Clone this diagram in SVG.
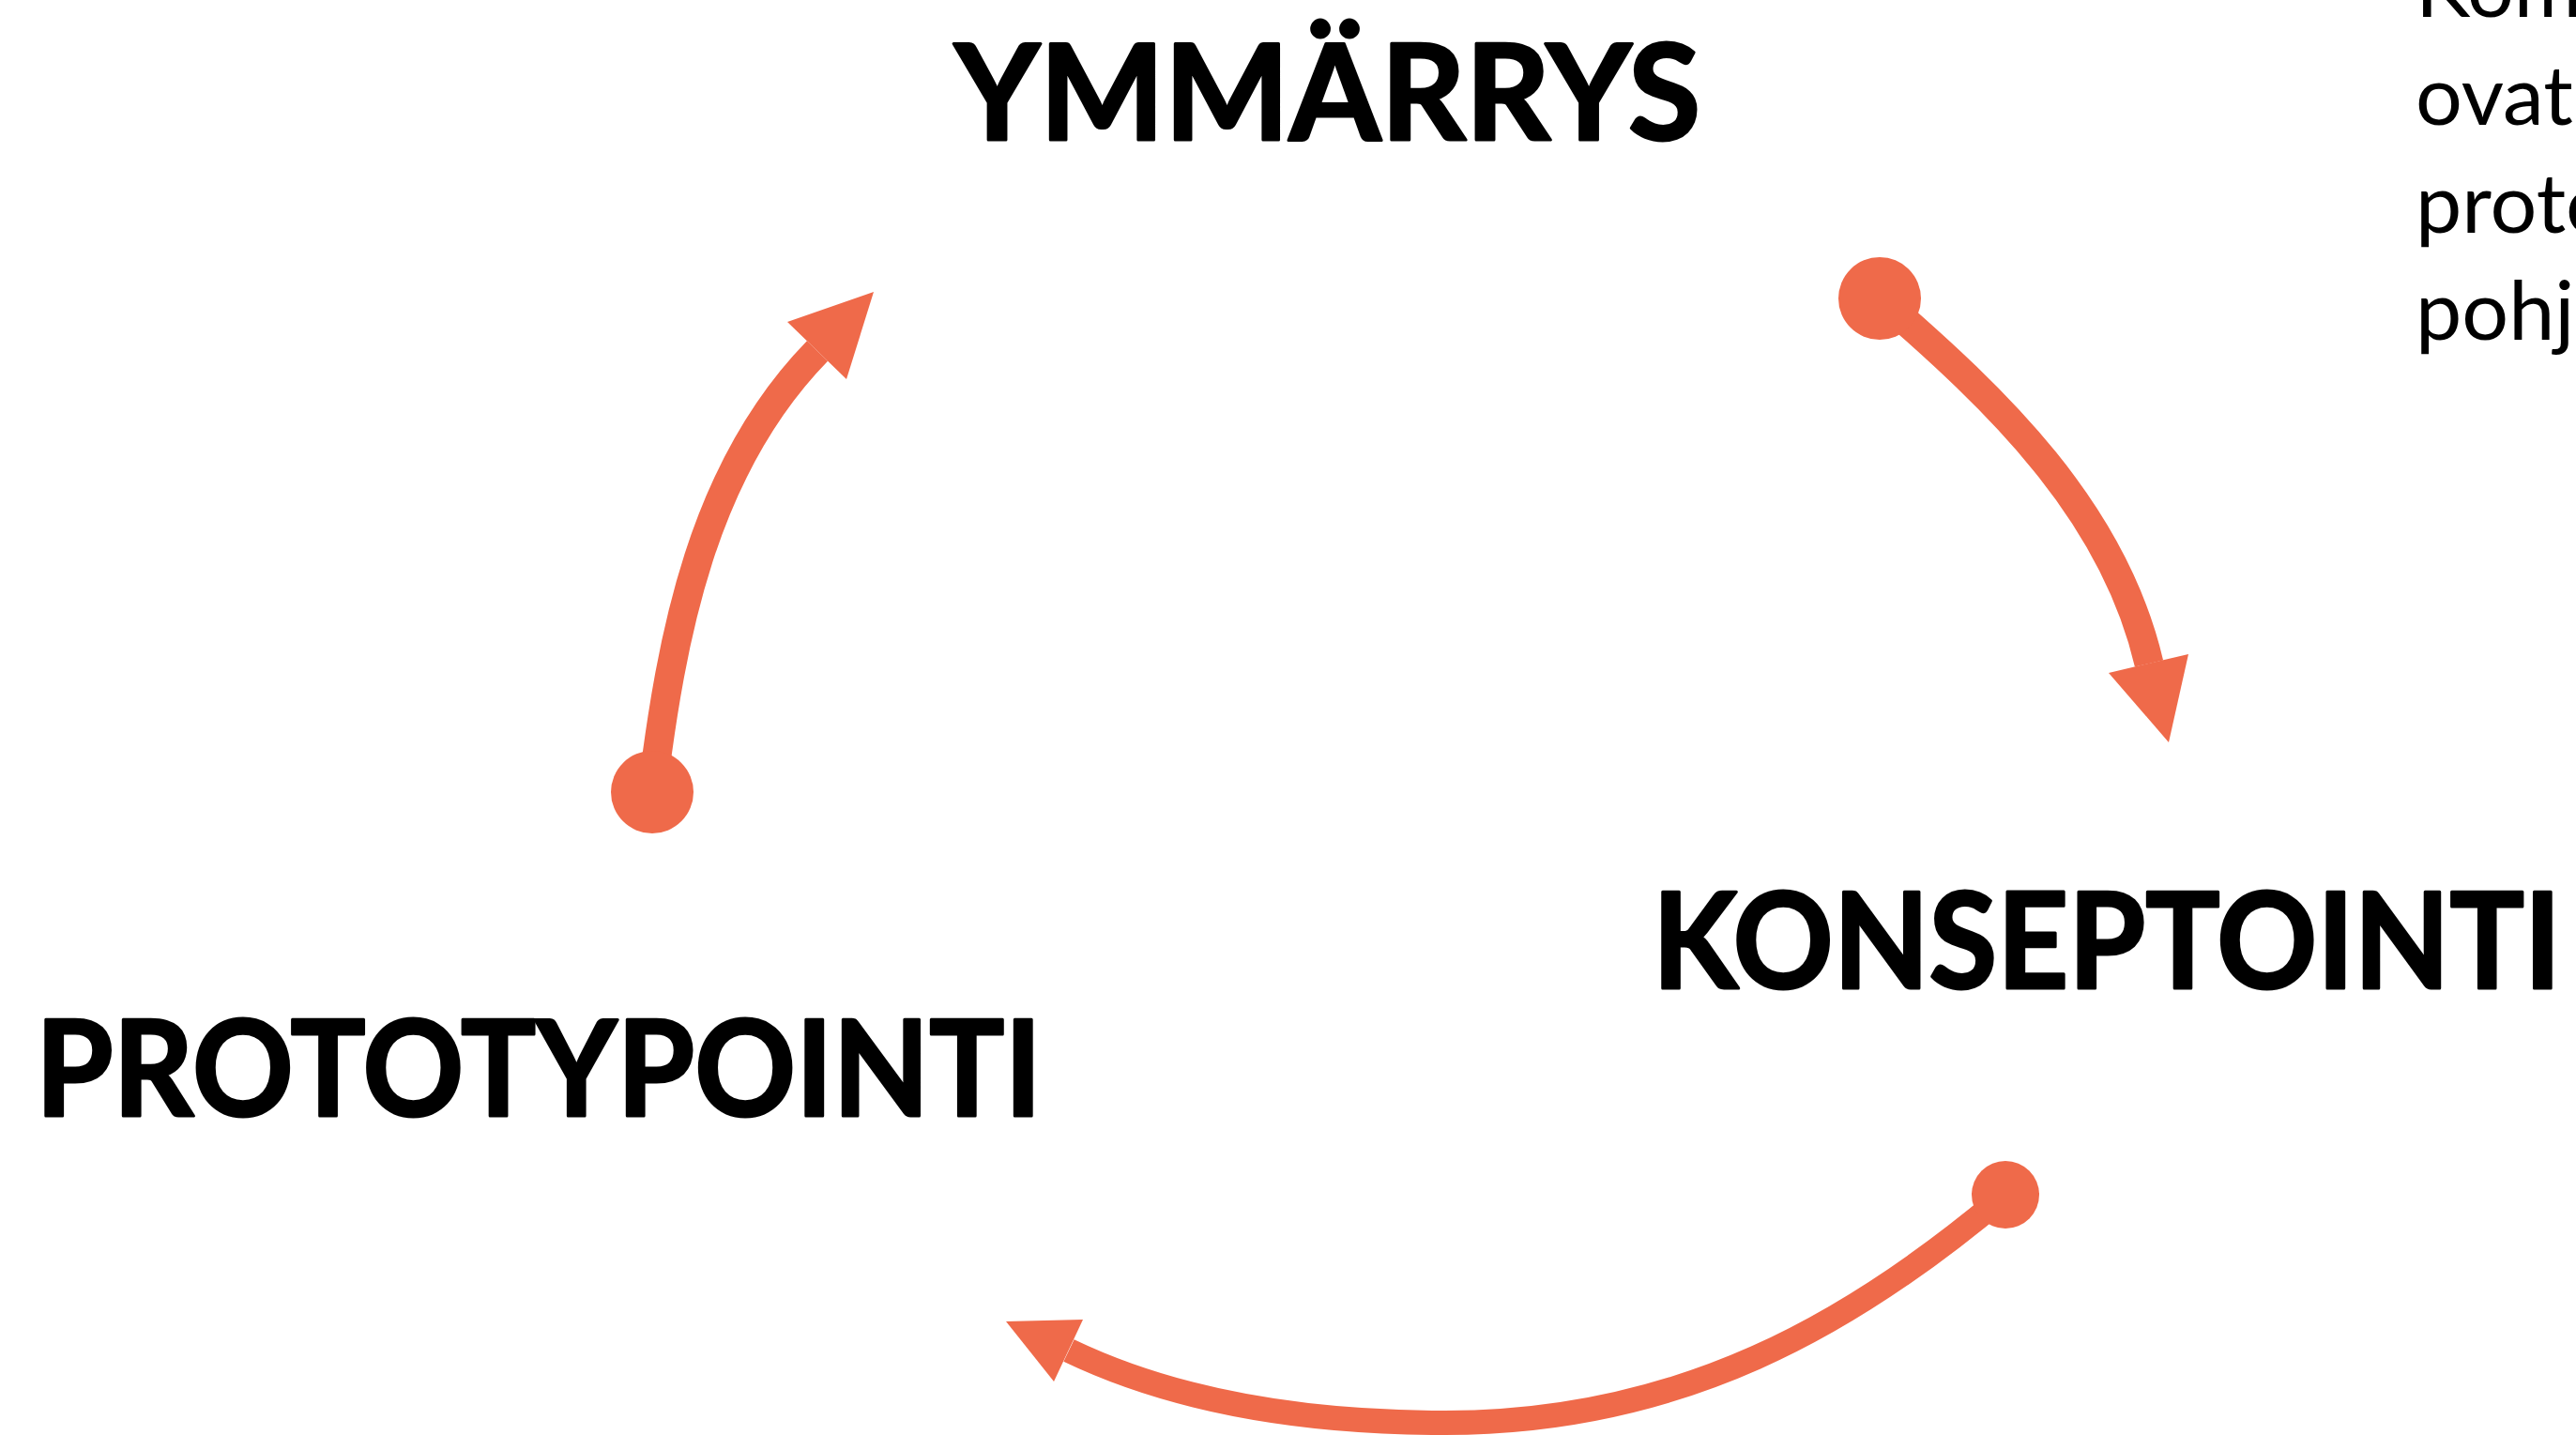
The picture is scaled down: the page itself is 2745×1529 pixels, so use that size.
<svg xmlns="http://www.w3.org/2000/svg" width="2745" height="1529" viewBox="0 0 2745 1529">
  <style>
    .bg { fill: #ffffff; }
    .heading { font-family: Lato, "Liberation Sans", sans-serif; font-weight: 700; font-size: 141px; fill: #000000; stroke: #000000; stroke-width: 3; stroke-linejoin: round; }
    .note { font-family: Lato, "Liberation Sans", sans-serif; font-weight: 400; font-size: 88px; fill: #000000; }
    .arc { fill: none; stroke: #EF6A4A; stroke-linecap: butt; }
    .wide { stroke-width: 31; }
    .narrow { stroke-width: 26; }
    .cap { fill: #EF6A4A; stroke: none; }
  </style>

  <rect class="bg" x="0" y="0" width="2745" height="1529"/>

  <!-- Stage labels -->
  <g id="node-ymmarrys">
    <text class="heading" x="1017" y="149" textLength="795" lengthAdjust="spacingAndGlyphs">YMMÄRRYS</text>
  </g>
  <g id="node-konseptointi">
    <text class="heading" x="1761" y="1053" textLength="968" lengthAdjust="spacingAndGlyphs">KONSEPTOINTI</text>
  </g>
  <g id="node-prototypointi">
    <text class="heading" x="38" y="1189" textLength="1072" lengthAdjust="spacingAndGlyphs">PROTOTYPOINTI</text>
  </g>

  <!-- Side note running off the right edge -->
  <g id="note">
    <text class="note" x="2574" y="18">Kom</text>
    <text class="note" x="2574" y="133">ovat</text>
    <text class="note" x="2574" y="248">proto</text>
    <text class="note" x="2574" y="362">pohj</text>
  </g>

  <!-- Cycle arrows: dot at the tail, triangle at the head -->
  <g id="connectors">
    <g id="arrow-ymmarrys-konseptointi">
      <path class="arc wide" d="M2003,318 C2128,426 2252,544 2290,707"/>
      <circle class="cap" cx="2003" cy="318" r="44"/>
      <polygon class="cap" points="2247,717 2332,697 2311,791"/>
    </g>
    <g id="arrow-konseptointi-prototypointi">
      <path class="arc narrow" d="M2137,1273 C1973,1412 1790,1516 1540,1516 C1405,1516 1262,1498 1139,1439"/>
      <circle class="cap" cx="2137" cy="1273" r="36"/>
      <polygon class="cap" points="1072,1408 1154,1406 1123,1472"/>
    </g>
    <g id="arrow-prototypointi-ymmarrys">
      <path class="arc wide" d="M695,844 C715,680 748,500 871,374"/>
      <circle class="cap" cx="695" cy="844" r="44"/>
      <polygon class="cap" points="839,343 931,311 902,404"/>
    </g>
  </g>
</svg>
